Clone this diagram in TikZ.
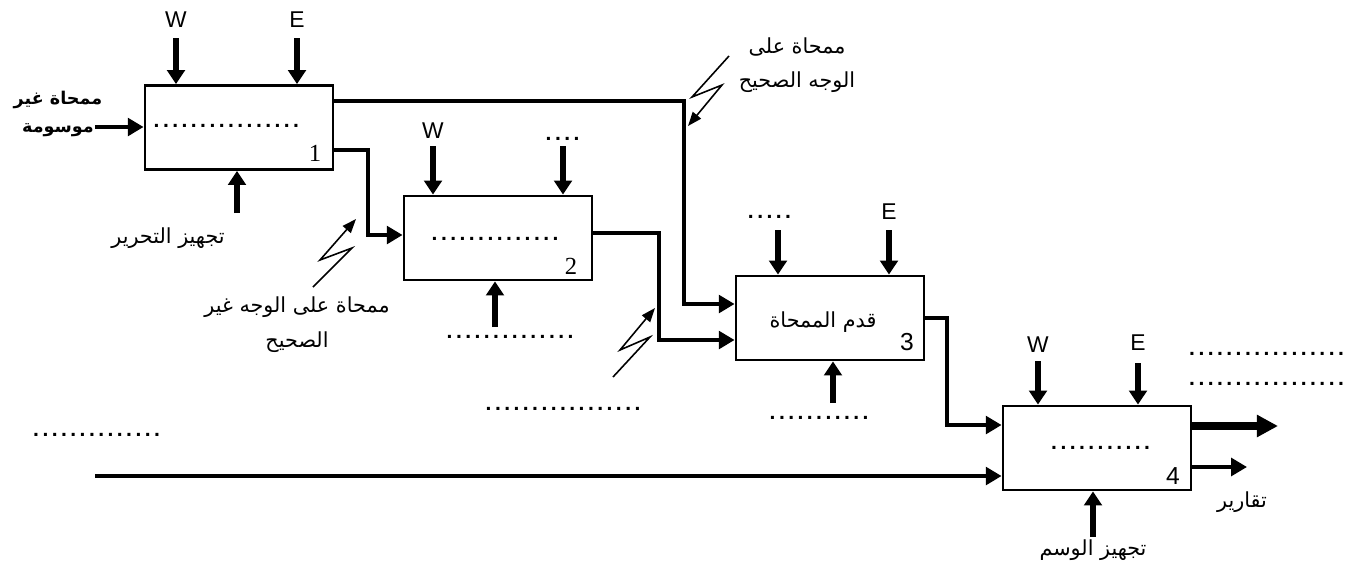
\documentclass[tikz,border=0pt]{standalone}
\usepackage{fontspec}
\setsansfont{Liberation Sans}
\newfontfamily\numfont{Liberation Serif}
\newfontfamily\arabicfont[Script=Arabic]{DejaVu Sans}
\TeXXeTstate=1
\usetikzlibrary{arrows.meta}
\newcommand\dotrow[1]{\makebox[#1]{\leaders\hbox to 0.186cm{\hss.\hss}\hfill}}
\newcommand\rtl[1]{\beginR #1\endR}
\tikzset{
  proc/.style={draw, line width=1.6pt, minimum width=3.76cm, minimum height=1.68cm, inner sep=0pt},
  flow/.style={line width=2.2pt, -{Triangle[length=9pt,width=10pt]}},
  bigflow/.style={line width=4pt, -{Triangle[length=12pt,width=12pt]}},
  ctrl/.style={line width=3pt, -{Triangle[length=8pt,width=10pt]}},
  bolt/.style={line width=0.9pt, -{Triangle[length=8pt,width=6pt]}},
  lab/.style={font=\sffamily\fontsize{13}{15}\selectfont, inner sep=0pt},
  num/.style={font=\numfont\fontsize{14}{16}\selectfont, inner sep=0pt},
  snum/.style={font=\sffamily\fontsize{14}{16}\selectfont, inner sep=0pt},
  dots/.style={font=\sffamily\bfseries\fontsize{12}{14}\selectfont, inner sep=0pt},
  artext/.style={font=\arabicfont\fontsize{11.8}{14}\selectfont, align=center, inner sep=0pt},
}
\begin{document}
\begin{tikzpicture}[x=0.02cm,y=-0.02cm]
  \useasboundingbox (0,0) rectangle (1360,572);

  % activity boxes
  \node[proc] (b1) at (239,127.5) {};
  \node[proc] (b2) at (498,238) {};
  \node[proc] (b3) at (830,318) {};
  \node[proc] (b4) at (1097,448) {};

  \node[dots] (d1) at (227,126) {\dotrow{3cm}};
  \node[dots] (d2) at (496,239) {\dotrow{2.64cm}};
  \node[artext] (t3) at (823,322) {\rtl{قدم الممحاة}};
  \node[dots] (d4) at (1102,448) {\dotrow{2.1cm}};

  \node[num] (n1) at (315,153) {1};
  \node[num] (n2) at (571,266) {2};
  \node[snum] (n3) at (907,342) {3};
  \node[snum] (n4) at (1173,476) {4};

  % controls
  \node[lab] (w1) at (176,20) {W};
  \node[lab] (e1) at (297,20) {E};
  \coordinate (cw1) at (176,38);
  \coordinate (ce1) at (297,38);
  \draw[ctrl] (cw1) -- (cw1 |- b1.north);
  \draw[ctrl] (ce1) -- (ce1 |- b1.north);

  \node[lab] (w2) at (433,131) {W};
  \node[dots] (d2t) at (563,139) {\dotrow{0.76cm}};
  \coordinate (cw2) at (433,146);
  \coordinate (ce2) at (563,146);
  \draw[ctrl] (cw2) -- (cw2 |- b2.north);
  \draw[ctrl] (ce2) -- (ce2 |- b2.north);

  \node[dots] (d3t) at (770,217) {\dotrow{0.95cm}};
  \node[lab] (e3) at (889,212) {E};
  \coordinate (cw3) at (778,230);
  \coordinate (ce3) at (889,230);
  \draw[ctrl] (cw3) -- (cw3 |- b3.north);
  \draw[ctrl] (ce3) -- (ce3 |- b3.north);

  \node[lab] (w4) at (1038,345) {W};
  \node[lab] (e4) at (1138,343) {E};
  \coordinate (cw4) at (1038,361);
  \coordinate (ce4) at (1138,363);
  \draw[ctrl] (cw4) -- (cw4 |- b4.north);
  \draw[ctrl] (ce4) -- (ce4 |- b4.north);

  % mechanisms
  \coordinate (m1) at (237,213);
  \node[artext] (tm1) at (168,238) {\rtl{تجهيز التحرير}};
  \draw[ctrl] (m1) -- (m1 |- b1.south);

  \coordinate (m2) at (495,327);
  \node[dots] (dm2) at (511,337) {\dotrow{2.64cm}};
  \draw[ctrl] (m2) -- (m2 |- b2.south);

  \coordinate (m3) at (833,403);
  \node[dots] (dm3) at (820,418) {\dotrow{2.08cm}};
  \draw[ctrl] (m3) -- (m3 |- b3.south);

  \coordinate (m4) at (1093,537);
  \node[artext] (tm4) at (1093,550) {\rtl{تجهيز الوسم}};
  \draw[ctrl] (m4) -- (m4 |- b4.south);

  % inputs and outputs
  \coordinate (in1) at (95,127);
  \node[artext, font=\arabicfont\bfseries\fontsize{10}{16}\selectfont] (tin1) at (58,114)
    {\rtl{ممحاة غير}\\\rtl{موسومة}};
  \draw[flow] (in1) -- (b1.west |- in1);

  \coordinate (busA) at (684,304);
  \draw[flow] ([shift={(0,-26.5)}]b1.east) -| (busA) -- (b3.west |- busA);
  \coordinate (busB) at (368,235);
  \draw[flow] ([shift={(0,22.5)}]b1.east) -| (busB) -- (b2.west |- busB);
  \coordinate (busC) at (659,340);
  \draw[flow] ([shift={(0,-5)}]b2.east) -| (busC) -- (b3.west |- busC);
  \coordinate (busD) at (947,425);
  \draw[flow] (b3.east) -| (busD) -- (b4.west |- busD);

  \coordinate (in4) at (95,476);
  \draw[flow] (in4) -- (b4.west |- in4);
  \node[dots] (dl) at (97,435) {\dotrow{2.62cm}};
  \node[dots] (dc) at (565,409) {\dotrow{3.24cm}};

  \coordinate (o4a) at (1278,426);
  \coordinate (o4b) at (1247,467);
  \draw[bigflow] (b4.east |- o4a) -- (o4a);
  \draw[flow] (b4.east |- o4b) -- (o4b);
  \node[artext] (to4) at (1242,502) {\rtl{تقارير}};
  \node[dots] (dr1) at (1267,354) {\dotrow{3.18cm}};
  \node[dots] (dr2) at (1267,384) {\dotrow{3.18cm}};

  % side flows (squiggles)
  \node[artext, font=\arabicfont\fontsize{11.8}{19}\selectfont] (tk1) at (797,65)
    {\rtl{ممحاة على}\\\rtl{الوجه الصحيح}};
  \coordinate (k1a) at (729,56);
  \coordinate (k1b) at (688,126);
  \draw[bolt] (k1a) -- (692,97) -- (722,85) -- (k1b);

  \node[artext, font=\arabicfont\fontsize{11.8}{20}\selectfont] (tk2) at (297,325)
    {\rtl{ممحاة على الوجه غير}\\\rtl{الصحيح}};
  \coordinate (k2a) at (313,287);
  \coordinate (k2b) at (356,219);
  \draw[bolt] (k2a) -- (352,248) -- (320,260) -- (k2b);

  \coordinate (k3a) at (613,377);
  \coordinate (k3b) at (655,308);
  \draw[bolt] (k3a) -- (650,337) -- (620,350) -- (k3b);
\end{tikzpicture}
\end{document}
